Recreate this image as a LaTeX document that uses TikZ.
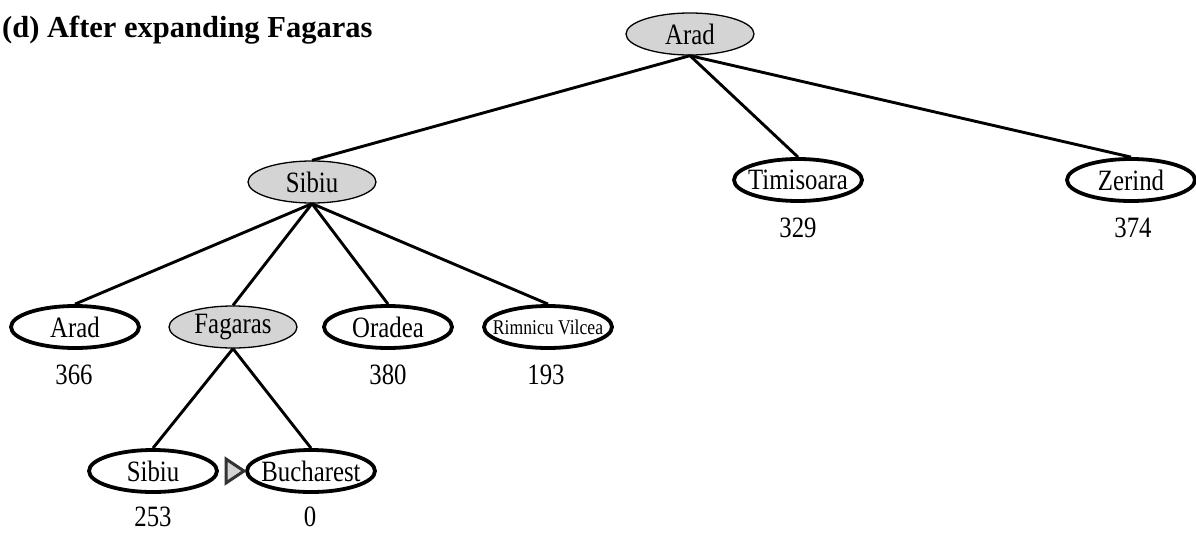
\documentclass[tikz,border=0pt]{standalone}
\usepackage{fontspec}
\setmainfont{Liberation Serif}
\newfontfamily\treefont{Liberation Serif}[FakeStretch=0.84]
\usetikzlibrary{shapes.geometric}
\definecolor{expanded}{RGB}{212,212,212}
\tikzset{
  city/.style={ellipse, draw=black, inner ysep=0pt, inner xsep=-14pt,
    minimum width=128pt, minimum height=42pt,
    font=\treefont\fontsize{29.5}{31}\selectfont},
  frontier/.style={city, line width=3.8pt, fill=white},
  visited/.style={city, line width=1.3pt, fill=expanded},
  hval/.style={font=\treefont\fontsize{29.5}{31}\selectfont, inner sep=0pt},
  edge/.style={line width=2.9pt},
}
\begin{document}
\begin{tikzpicture}[x=1pt,y=-1pt]
\useasboundingbox (0,0) rectangle (1196,533);

% heading
\node[anchor=west, inner sep=0pt, font=\bfseries\fontsize{30.5}{32}\selectfont] (title) at (2,30) {(d) After expanding Fagaras};

% level 0
\node[visited] (arad0) at (690,34) {Arad};

% level 1
\node[visited]  (sibiu1) at (312,182) {Sibiu};
\node[frontier] (timisoara) at (798,180) {Timisoara};
\node[frontier] (zerind) at (1131,180) {Zerind};
\node[hval] (h-tim) at (798,228) {329};
\node[hval] (h-zer) at (1133,228) {374};

% level 2
\node[frontier] (arad2) at (75,327) {Arad};
\node[visited]  (fagaras) at (233,327) {Fagaras};
\node[frontier] (oradea) at (388,327) {Oradea};
\node[frontier, font=\treefont\fontsize{21}{23}\selectfont] (rimnicu) at (548,327) {Rimnicu Vilcea};
\node[hval] (h-arad2) at (74,375) {366};
\node[hval] (h-ora) at (388,375) {380};
\node[hval] (h-rim) at (546,375) {193};

% level 3
\node[frontier] (sibiu3) at (153,471) {Sibiu};
\node[frontier] (bucharest) at (311,471) {Bucharest};
\node[hval] (h-sib3) at (153,517) {253};
\node[hval] (h-buc) at (310,517) {0};

% tree edges
\draw[edge] (arad0.south) -- (sibiu1.north);
\draw[edge] (arad0.south) -- (timisoara.north);
\draw[edge] (arad0.south) -- (zerind.north);
\draw[edge] (sibiu1.south) -- (arad2.north);
\draw[edge] (sibiu1.south) -- (fagaras.north);
\draw[edge] (sibiu1.south) -- (oradea.north);
\draw[edge] (sibiu1.south) -- (rimnicu.north);
\draw[edge] (fagaras.south) -- (sibiu3.north);
\draw[edge] (fagaras.south) -- (bucharest.north);

% goal marker in front of Bucharest
\draw[line width=3pt, draw=black!80, fill=expanded, line join=miter]
  ([xshift=-85pt,yshift=-12pt]bucharest.center) -- ([xshift=-67pt]bucharest.center)
  -- ([xshift=-85pt,yshift=12pt]bucharest.center) -- cycle;
\end{tikzpicture}
\end{document}
